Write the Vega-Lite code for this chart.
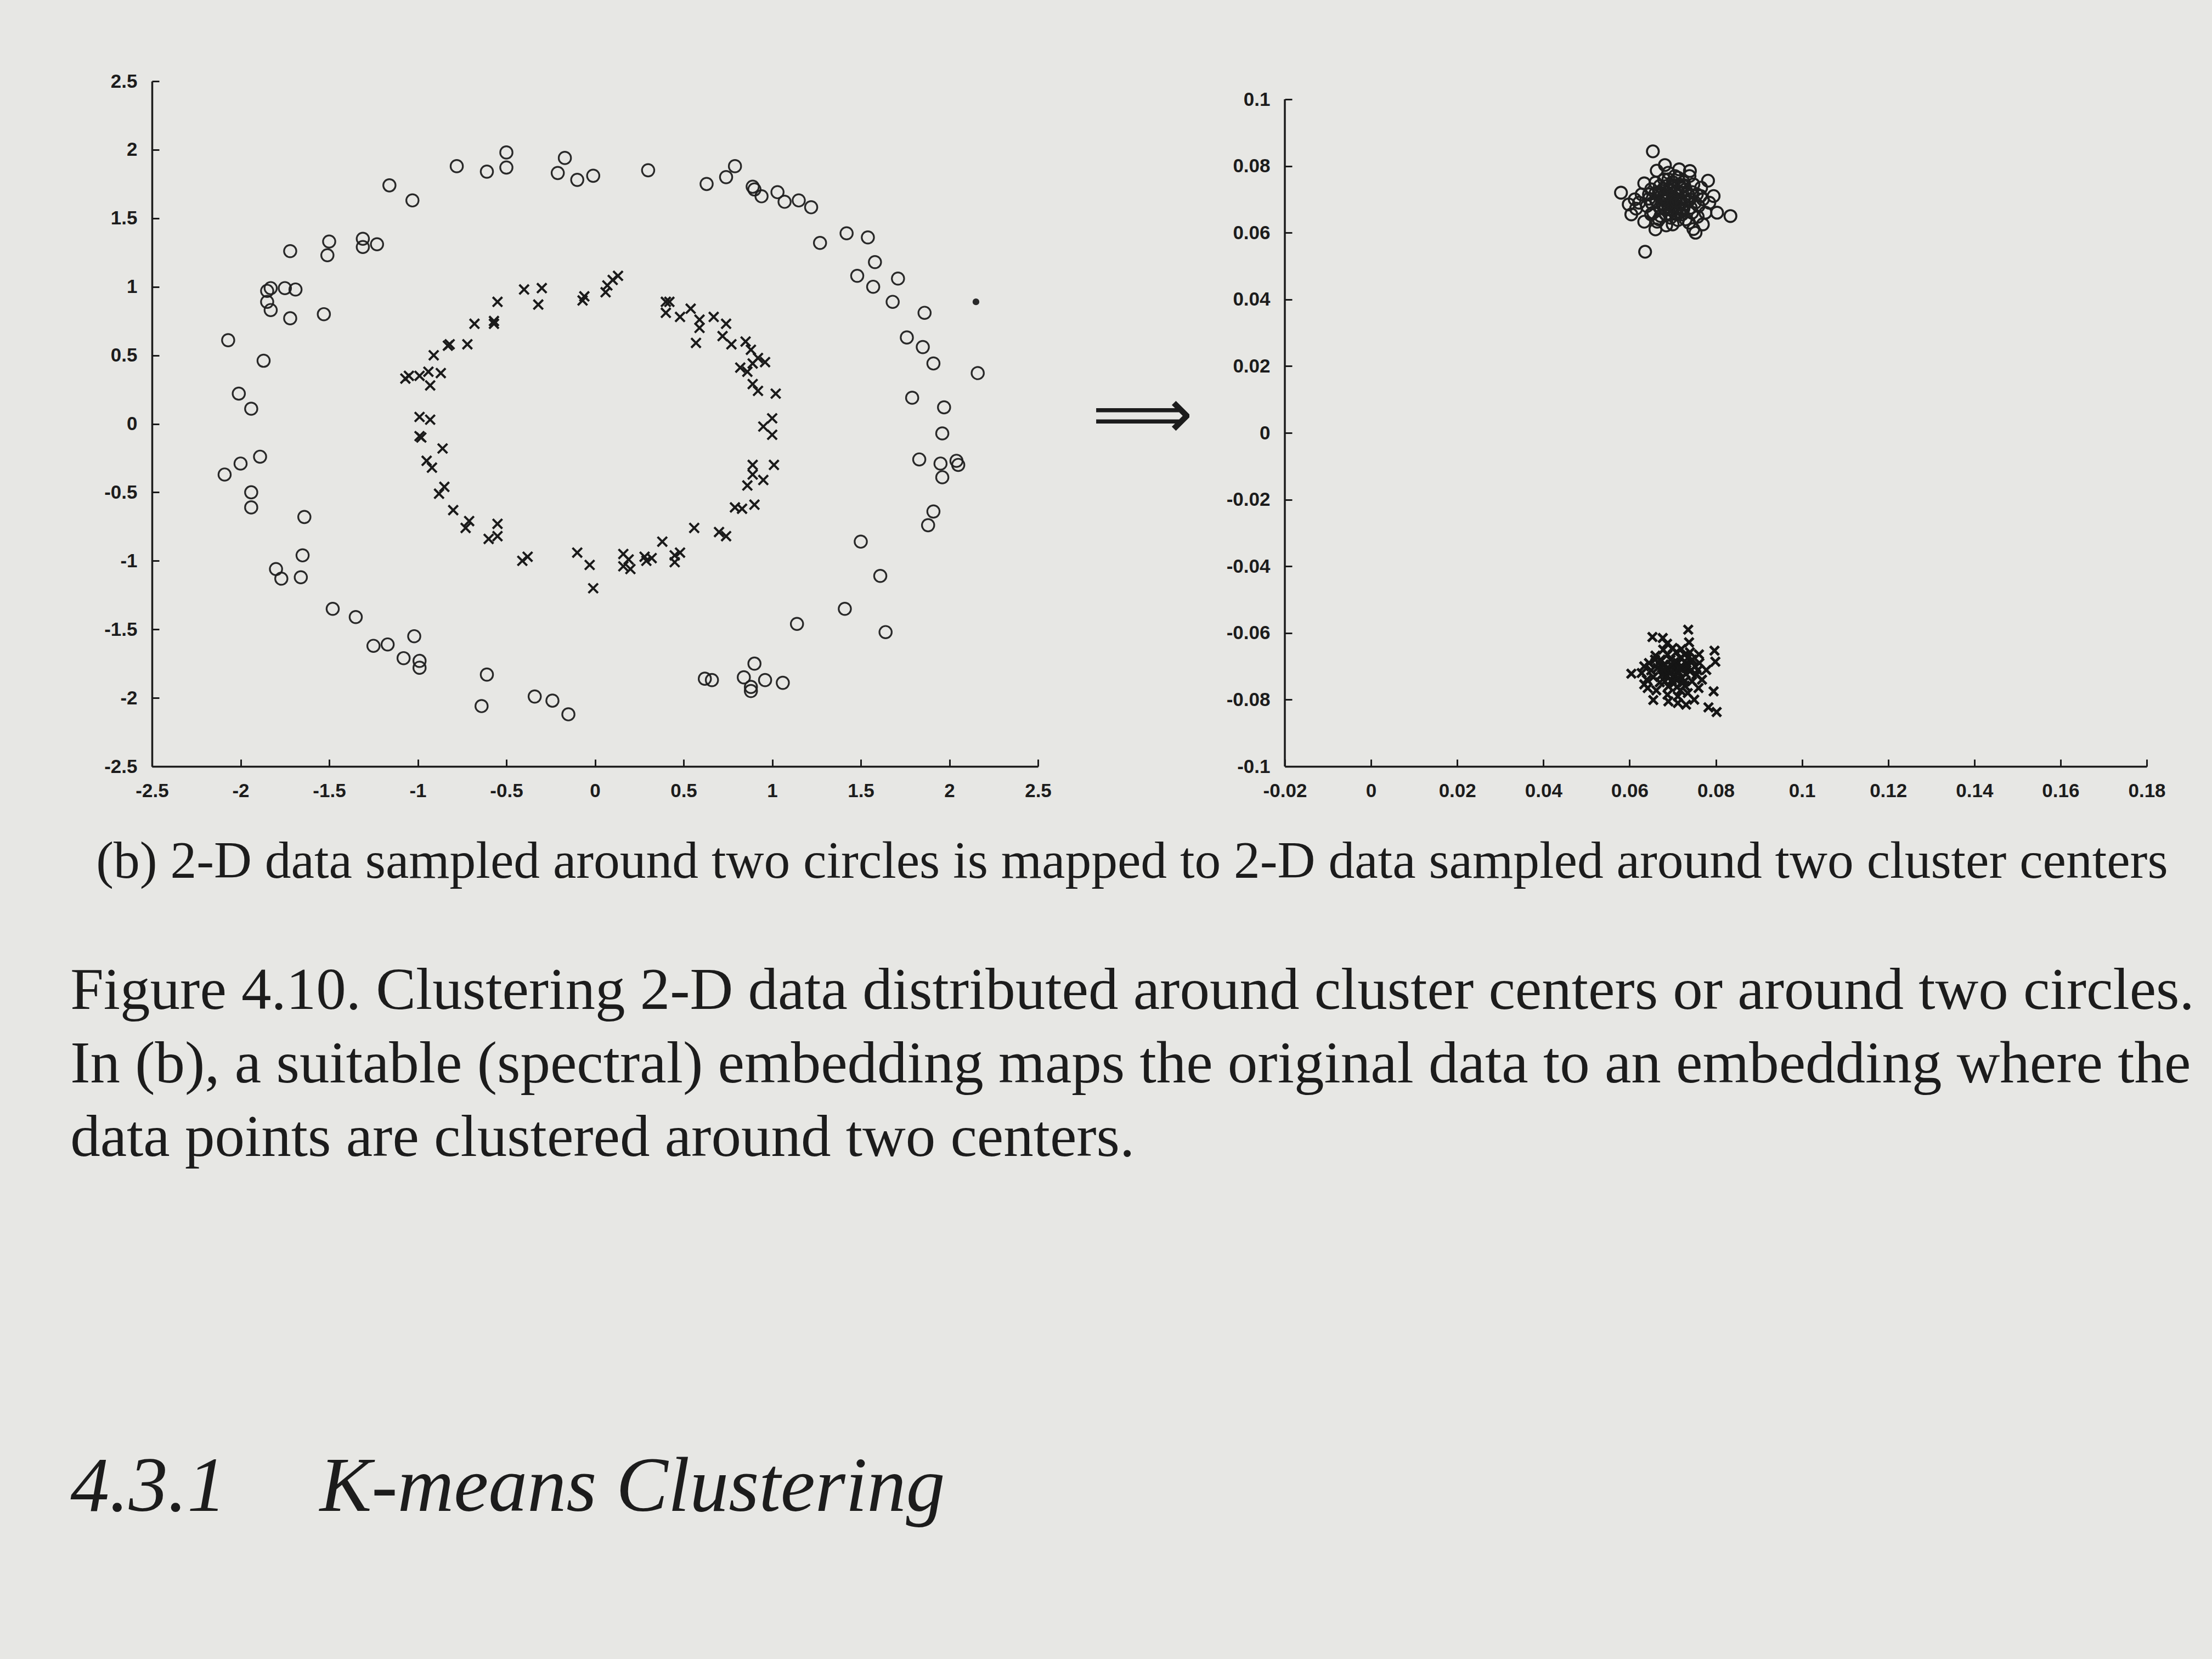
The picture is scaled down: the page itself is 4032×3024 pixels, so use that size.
{
  "$schema": "https://vega.github.io/schema/vega-lite/v6.json",
  "background": "#e7e7e4",
  "padding": {"left": 128, "top": 131, "right": 40, "bottom": 250},
  "config": {
    "view": {"stroke": null},
    "axis": {
      "grid": false,
      "domainColor": "#1c1c1c",
      "domainWidth": 3.5,
      "tickColor": "#1c1c1c",
      "tickWidth": 3,
      "tickSize": -13,
      "labelFont": "Liberation Sans",
      "labelFontSize": 35,
      "labelFontWeight": "bold",
      "labelColor": "#1c1c1c",
      "labelFlush": false,
      "labelOverlap": false,
      "labelPadding": 40,
      "title": null,
      "format": "~g",
      "labelExpr": "replace(datum.label, '−', '-')"
    }
  },
  "datasets": {
    "leftO": [
      {"x": -0.78, "y": 1.88}, {"x": -0.61, "y": 1.84}, {"x": -0.50, "y": 1.98}, {"x": -0.50, "y": 1.87},
      {"x": -0.17, "y": 1.94}, {"x": -0.21, "y": 1.83}, {"x": -0.10, "y": 1.78}, {"x": -0.01, "y": 1.81},
      {"x": -1.16, "y": 1.74}, {"x": -1.03, "y": 1.63}, {"x": -1.72, "y": 1.26}, {"x": -1.50, "y": 1.33},
      {"x": -1.51, "y": 1.23}, {"x": -1.31, "y": 1.35}, {"x": -1.31, "y": 1.29}, {"x": -1.23, "y": 1.31},
      {"x": -1.85, "y": 0.97}, {"x": -1.83, "y": 0.99}, {"x": -1.85, "y": 0.89}, {"x": -1.83, "y": 0.83},
      {"x": -1.75, "y": 0.99}, {"x": -1.69, "y": 0.98}, {"x": -1.72, "y": 0.77}, {"x": -1.53, "y": 0.80},
      {"x": -2.07, "y": 0.61}, {"x": -1.87, "y": 0.46}, {"x": -2.01, "y": 0.22}, {"x": -1.94, "y": 0.11},
      {"x": 0.30, "y": 1.85}, {"x": 0.63, "y": 1.75}, {"x": 0.74, "y": 1.80}, {"x": 0.79, "y": 1.88},
      {"x": 0.89, "y": 1.73}, {"x": 0.90, "y": 1.71}, {"x": 0.94, "y": 1.66}, {"x": 1.03, "y": 1.69},
      {"x": 1.07, "y": 1.62}, {"x": 1.15, "y": 1.63}, {"x": 1.22, "y": 1.58}, {"x": 1.27, "y": 1.32},
      {"x": 1.42, "y": 1.39}, {"x": 1.54, "y": 1.36}, {"x": 1.58, "y": 1.18}, {"x": 1.48, "y": 1.08},
      {"x": 1.57, "y": 1.00}, {"x": 1.71, "y": 1.06}, {"x": 1.68, "y": 0.89}, {"x": 1.86, "y": 0.81},
      {"x": 1.76, "y": 0.63}, {"x": 1.85, "y": 0.56}, {"x": 1.91, "y": 0.44}, {"x": 2.16, "y": 0.37},
      {"x": 1.79, "y": 0.19}, {"x": 1.97, "y": 0.12}, {"x": 1.96, "y": -0.07},
      {"x": -2.09, "y": -0.37}, {"x": -2.00, "y": -0.29}, {"x": -1.89, "y": -0.24}, {"x": -1.94, "y": -0.50},
      {"x": -1.94, "y": -0.61}, {"x": -1.64, "y": -0.68}, {"x": -1.65, "y": -0.96}, {"x": -1.80, "y": -1.06},
      {"x": -1.77, "y": -1.13}, {"x": -1.66, "y": -1.12}, {"x": -1.48, "y": -1.35}, {"x": -1.35, "y": -1.41},
      {"x": -1.02, "y": -1.55}, {"x": -1.25, "y": -1.62}, {"x": -1.17, "y": -1.61}, {"x": -1.08, "y": -1.71},
      {"x": -0.99, "y": -1.73}, {"x": -0.99, "y": -1.78}, {"x": -0.61, "y": -1.83}, {"x": -0.64, "y": -2.06},
      {"x": -0.34, "y": -1.99}, {"x": -0.24, "y": -2.02}, {"x": -0.15, "y": -2.12},
      {"x": 1.83, "y": -0.26}, {"x": 1.95, "y": -0.29}, {"x": 2.04, "y": -0.27}, {"x": 2.05, "y": -0.30},
      {"x": 1.96, "y": -0.39}, {"x": 1.91, "y": -0.64}, {"x": 1.88, "y": -0.74}, {"x": 1.50, "y": -0.86},
      {"x": 1.61, "y": -1.11}, {"x": 1.41, "y": -1.35}, {"x": 1.14, "y": -1.46}, {"x": 1.64, "y": -1.52},
      {"x": 0.90, "y": -1.75}, {"x": 0.62, "y": -1.86}, {"x": 0.66, "y": -1.87}, {"x": 0.84, "y": -1.85},
      {"x": 0.88, "y": -1.92}, {"x": 0.88, "y": -1.95}, {"x": 0.96, "y": -1.87}, {"x": 1.06, "y": -1.89}
    ],
    "leftX": [
      {"x": -0.40, "y": 0.98}, {"x": -0.30, "y": 0.99}, {"x": -0.32, "y": 0.87}, {"x": -0.55, "y": 0.89},
      {"x": -0.68, "y": 0.73}, {"x": -0.57, "y": 0.75}, {"x": -0.57, "y": 0.73}, {"x": -0.83, "y": 0.57},
      {"x": -0.82, "y": 0.58}, {"x": -0.72, "y": 0.58}, {"x": -0.91, "y": 0.50}, {"x": -1.07, "y": 0.33},
      {"x": -1.05, "y": 0.35}, {"x": -0.99, "y": 0.35}, {"x": -0.94, "y": 0.38}, {"x": -0.87, "y": 0.37},
      {"x": -0.93, "y": 0.28}, {"x": -0.99, "y": 0.05}, {"x": -0.93, "y": 0.03}, {"x": -0.99, "y": -0.09},
      {"x": -0.98, "y": -0.10}, {"x": -0.86, "y": -0.18}, {"x": -0.07, "y": 0.90}, {"x": -0.06, "y": 0.93},
      {"x": 0.06, "y": 0.96}, {"x": 0.07, "y": 1.01}, {"x": 0.10, "y": 1.05}, {"x": 0.13, "y": 1.08},
      {"x": 0.40, "y": 0.89}, {"x": 0.42, "y": 0.89}, {"x": 0.40, "y": 0.81}, {"x": 0.48, "y": 0.78},
      {"x": 0.54, "y": 0.84}, {"x": 0.59, "y": 0.76}, {"x": 0.59, "y": 0.70}, {"x": 0.67, "y": 0.78},
      {"x": 0.74, "y": 0.73}, {"x": 0.57, "y": 0.59}, {"x": 0.72, "y": 0.64}, {"x": 0.77, "y": 0.58},
      {"x": 0.85, "y": 0.60}, {"x": 0.88, "y": 0.54}, {"x": 0.92, "y": 0.48}, {"x": 0.96, "y": 0.45},
      {"x": 0.82, "y": 0.41}, {"x": 0.86, "y": 0.38}, {"x": 0.89, "y": 0.44}, {"x": 0.89, "y": 0.29},
      {"x": 0.92, "y": 0.24}, {"x": 1.02, "y": 0.22}, {"x": 1.00, "y": 0.04}, {"x": 0.95, "y": -0.02},
      {"x": 1.00, "y": -0.08},
      {"x": -0.95, "y": -0.27}, {"x": -0.92, "y": -0.32}, {"x": -0.88, "y": -0.51}, {"x": -0.85, "y": -0.46},
      {"x": -0.80, "y": -0.63}, {"x": -0.73, "y": -0.76}, {"x": -0.71, "y": -0.71}, {"x": -0.60, "y": -0.84},
      {"x": -0.55, "y": -0.73}, {"x": -0.55, "y": -0.82}, {"x": -0.41, "y": -1.00}, {"x": -0.38, "y": -0.97},
      {"x": -0.10, "y": -0.94}, {"x": -0.03, "y": -1.03}, {"x": -0.01, "y": -1.20},
      {"x": 1.01, "y": -0.30}, {"x": 0.89, "y": -0.30}, {"x": 0.89, "y": -0.37}, {"x": 0.95, "y": -0.41},
      {"x": 0.86, "y": -0.45}, {"x": 0.79, "y": -0.61}, {"x": 0.83, "y": -0.62}, {"x": 0.90, "y": -0.59},
      {"x": 0.56, "y": -0.76}, {"x": 0.70, "y": -0.79}, {"x": 0.74, "y": -0.82}, {"x": 0.38, "y": -0.86},
      {"x": 0.16, "y": -0.95}, {"x": 0.19, "y": -0.99}, {"x": 0.16, "y": -1.04}, {"x": 0.20, "y": -1.06},
      {"x": 0.28, "y": -0.97}, {"x": 0.32, "y": -0.98}, {"x": 0.29, "y": -1.00}, {"x": 0.45, "y": -0.96},
      {"x": 0.48, "y": -0.94}, {"x": 0.45, "y": -1.01}
    ],
    "leftDot": [{"x": 2.15, "y": 0.89}],
    "arrow": [{"x": 3.09, "y": 0.05, "t": "⟹"}],
    "rightAxis": [{"x": -0.02, "y": -0.1, "y2": 0.1}],
    "rightO": [
      {"x": 0.0654, "y": 0.0844}, {"x": 0.0636, "y": 0.0543}, {"x": 0.0803, "y": 0.0660}, {"x": 0.0834, "y": 0.0650},
      {"x": 0.0580, "y": 0.0720}, {"x": 0.0682, "y": 0.0803}, {"x": 0.0663, "y": 0.0786}, {"x": 0.0782, "y": 0.0756},
      {"x": 0.0795, "y": 0.0710}, {"x": 0.0634, "y": 0.0748}, {"x": 0.0748, "y": 0.0611}, {"x": 0.0753, "y": 0.0600},
      {"x": 0.0604, "y": 0.0655}, {"x": 0.0634, "y": 0.0633}, {"x": 0.0664, "y": 0.0633}, {"x": 0.0685, "y": 0.0622},
      {"x": 0.0739, "y": 0.0770}, {"x": 0.0756, "y": 0.0715}, {"x": 0.0723, "y": 0.0666}, {"x": 0.0690, "y": 0.0780},
      {"x": 0.0712, "y": 0.0765}, {"x": 0.0701, "y": 0.0742}, {"x": 0.0678, "y": 0.0731}, {"x": 0.0660, "y": 0.0718},
      {"x": 0.0645, "y": 0.0702}, {"x": 0.0622, "y": 0.0690}, {"x": 0.0615, "y": 0.0672}, {"x": 0.0640, "y": 0.0680},
      {"x": 0.0655, "y": 0.0660}, {"x": 0.0672, "y": 0.0650}, {"x": 0.0695, "y": 0.0645}, {"x": 0.0710, "y": 0.0655},
      {"x": 0.0730, "y": 0.0640}, {"x": 0.0745, "y": 0.0660}, {"x": 0.0760, "y": 0.0680}, {"x": 0.0770, "y": 0.0700},
      {"x": 0.0766, "y": 0.0735}, {"x": 0.0748, "y": 0.0745}, {"x": 0.0725, "y": 0.0752}, {"x": 0.0705, "y": 0.0722},
      {"x": 0.0688, "y": 0.0705}, {"x": 0.0700, "y": 0.0690}, {"x": 0.0718, "y": 0.0700}, {"x": 0.0735, "y": 0.0718},
      {"x": 0.0728, "y": 0.0685}, {"x": 0.0712, "y": 0.0675}, {"x": 0.0690, "y": 0.0670}, {"x": 0.0675, "y": 0.0688},
      {"x": 0.0662, "y": 0.0695}, {"x": 0.0680, "y": 0.0712}, {"x": 0.0695, "y": 0.0728}, {"x": 0.0718, "y": 0.0735},
      {"x": 0.0740, "y": 0.0700}, {"x": 0.0752, "y": 0.0690}, {"x": 0.0700, "y": 0.0708}, {"x": 0.0685, "y": 0.0695},
      {"x": 0.0705, "y": 0.0680}, {"x": 0.0722, "y": 0.0720}, {"x": 0.0670, "y": 0.0740}, {"x": 0.0650, "y": 0.0730},
      {"x": 0.0628, "y": 0.0715}, {"x": 0.0612, "y": 0.0700}, {"x": 0.0598, "y": 0.0685}, {"x": 0.0776, "y": 0.0660},
      {"x": 0.0785, "y": 0.0690}, {"x": 0.0770, "y": 0.0625}, {"x": 0.0738, "y": 0.0630}, {"x": 0.0700, "y": 0.0625},
      {"x": 0.0660, "y": 0.0610}, {"x": 0.0690, "y": 0.0760}, {"x": 0.0715, "y": 0.0790}, {"x": 0.0740, "y": 0.0785},
      {"x": 0.0680, "y": 0.0700}, {"x": 0.0690, "y": 0.0715}, {"x": 0.0700, "y": 0.0700}, {"x": 0.0710, "y": 0.0712},
      {"x": 0.0720, "y": 0.0690}, {"x": 0.0705, "y": 0.0660}, {"x": 0.0695, "y": 0.0655}, {"x": 0.0683, "y": 0.0672},
      {"x": 0.0676, "y": 0.0700}, {"x": 0.0668, "y": 0.0722}, {"x": 0.0685, "y": 0.0740}, {"x": 0.0700, "y": 0.0752},
      {"x": 0.0715, "y": 0.0745}, {"x": 0.0730, "y": 0.0730}, {"x": 0.0738, "y": 0.0710}, {"x": 0.0733, "y": 0.0695},
      {"x": 0.0725, "y": 0.0672}, {"x": 0.0715, "y": 0.0660}, {"x": 0.0698, "y": 0.0668}, {"x": 0.0688, "y": 0.0685},
      {"x": 0.0708, "y": 0.0695}, {"x": 0.0712, "y": 0.0725}, {"x": 0.0692, "y": 0.0730}, {"x": 0.0675, "y": 0.0715},
      {"x": 0.0670, "y": 0.0675}, {"x": 0.0684, "y": 0.0655}, {"x": 0.0722, "y": 0.0655}, {"x": 0.0742, "y": 0.0675},
      {"x": 0.0745, "y": 0.0722}, {"x": 0.0727, "y": 0.0742}, {"x": 0.0705, "y": 0.0770}, {"x": 0.0680, "y": 0.0760},
      {"x": 0.0660, "y": 0.0750}, {"x": 0.0645, "y": 0.0715}, {"x": 0.0652, "y": 0.0688}, {"x": 0.0668, "y": 0.0640},
      {"x": 0.0712, "y": 0.0638}, {"x": 0.0758, "y": 0.0648}, {"x": 0.0765, "y": 0.0710}, {"x": 0.0650, "y": 0.0655}
    ],
    "rightX": [
      {"x": 0.0736, "y": -0.0590}, {"x": 0.0653, "y": -0.0612}, {"x": 0.0677, "y": -0.0615}, {"x": 0.0687, "y": -0.0632},
      {"x": 0.0659, "y": -0.0680}, {"x": 0.0604, "y": -0.0722}, {"x": 0.0634, "y": -0.0700}, {"x": 0.0797, "y": -0.0653},
      {"x": 0.0799, "y": -0.0686}, {"x": 0.0795, "y": -0.0775}, {"x": 0.0783, "y": -0.0823}, {"x": 0.0802, "y": -0.0837},
      {"x": 0.0731, "y": -0.0815}, {"x": 0.0655, "y": -0.0801}, {"x": 0.0634, "y": -0.0754}, {"x": 0.0738, "y": -0.0628},
      {"x": 0.0761, "y": -0.0664}, {"x": 0.0778, "y": -0.0711},
      {"x": 0.0700, "y": -0.0700}, {"x": 0.0712, "y": -0.0690}, {"x": 0.0690, "y": -0.0712}, {"x": 0.0725, "y": -0.0705},
      {"x": 0.0705, "y": -0.0725}, {"x": 0.0680, "y": -0.0695}, {"x": 0.0718, "y": -0.0675}, {"x": 0.0695, "y": -0.0680},
      {"x": 0.0732, "y": -0.0690}, {"x": 0.0740, "y": -0.0715}, {"x": 0.0722, "y": -0.0735}, {"x": 0.0698, "y": -0.0742},
      {"x": 0.0675, "y": -0.0725}, {"x": 0.0665, "y": -0.0705}, {"x": 0.0672, "y": -0.0680}, {"x": 0.0688, "y": -0.0665},
      {"x": 0.0708, "y": -0.0658}, {"x": 0.0728, "y": -0.0665}, {"x": 0.0745, "y": -0.0680}, {"x": 0.0752, "y": -0.0700},
      {"x": 0.0755, "y": -0.0725}, {"x": 0.0745, "y": -0.0745}, {"x": 0.0728, "y": -0.0758}, {"x": 0.0710, "y": -0.0762},
      {"x": 0.0690, "y": -0.0760}, {"x": 0.0670, "y": -0.0748}, {"x": 0.0655, "y": -0.0732}, {"x": 0.0650, "y": -0.0712},
      {"x": 0.0645, "y": -0.0690}, {"x": 0.0660, "y": -0.0668}, {"x": 0.0678, "y": -0.0650}, {"x": 0.0700, "y": -0.0645},
      {"x": 0.0720, "y": -0.0648}, {"x": 0.0740, "y": -0.0658}, {"x": 0.0762, "y": -0.0690}, {"x": 0.0768, "y": -0.0740},
      {"x": 0.0760, "y": -0.0765}, {"x": 0.0735, "y": -0.0780}, {"x": 0.0712, "y": -0.0790}, {"x": 0.0688, "y": -0.0785},
      {"x": 0.0662, "y": -0.0772}, {"x": 0.0640, "y": -0.0740}, {"x": 0.0628, "y": -0.0720}, {"x": 0.0690, "y": -0.0805},
      {"x": 0.0712, "y": -0.0810}, {"x": 0.0750, "y": -0.0800}, {"x": 0.0702, "y": -0.0710}, {"x": 0.0715, "y": -0.0718},
      {"x": 0.0685, "y": -0.0728}, {"x": 0.0720, "y": -0.0700}, {"x": 0.0695, "y": -0.0695}, {"x": 0.0708, "y": -0.0740},
      {"x": 0.0730, "y": -0.0722}, {"x": 0.0735, "y": -0.0675}, {"x": 0.0668, "y": -0.0690}, {"x": 0.0682, "y": -0.0745},
      {"x": 0.0758, "y": -0.0712}, {"x": 0.0642, "y": -0.0765},
      {"x": 0.0703, "y": -0.0688}, {"x": 0.0693, "y": -0.0722}, {"x": 0.0715, "y": -0.0705}, {"x": 0.0725, "y": -0.0748},
      {"x": 0.0678, "y": -0.0710}, {"x": 0.0702, "y": -0.0752}, {"x": 0.0735, "y": -0.0700}, {"x": 0.0718, "y": -0.0772}
    ]
  },
  "title": {
    "text": [
      "Figure 4.10. Clustering 2-D data distributed around cluster centers or around two circles.",
      "In (b), a suitable (spectral) embedding maps the original data to an embedding where the",
      "data points are clustered around two centers."
    ],
    "subtitle": "4.3.1\u2003\u2009K-means Clustering",
    "orient": "bottom",
    "anchor": "start",
    "font": "Liberation Serif",
    "fontSize": 109,
    "fontWeight": "normal",
    "lineHeight": 134,
    "color": "#1c1c1c",
    "offset": 133,
    "dx": -47,
    "subtitleFont": "Liberation Serif",
    "subtitleFontSize": 142,
    "subtitleFontStyle": "italic",
    "subtitleColor": "#1c1c1c",
    "subtitlePadding": 512
  },
  "vconcat": [
    {
      "title": {
        "text": "(b) 2-D data sampled around two circles is mapped to 2-D data sampled around two cluster centers",
        "orient": "bottom",
        "anchor": "middle",
        "font": "Liberation Serif",
        "fontSize": 95.5,
        "fontWeight": "normal",
        "color": "#1c1c1c",
        "offset": 66,
        "dx": -5
      },
      "spacing": 60,
      "hconcat": [
        {
          "width": 1615,
          "height": 1249,
          "encoding": {
            "x": {"field": "x", "type": "quantitative",
                  "scale": {"domain": [-2.5, 2.5], "nice": false, "zero": false},
                  "axis": {"values": [-2.5, -2, -1.5, -1, -0.5, 0, 0.5, 1, 1.5, 2, 2.5]}},
            "y": {"field": "y", "type": "quantitative",
                  "scale": {"domain": [-2.5, 2.5], "nice": false, "zero": false},
                  "axis": {"values": [-2.5, -2, -1.5, -1, -0.5, 0, 0.5, 1, 1.5, 2, 2.5]}}
          },
          "layer": [
            {"data": {"name": "leftO"},
             "mark": {"type": "point", "shape": "circle", "filled": false, "size": 500, "strokeWidth": 3.2, "color": "#1f1f1f", "opacity": 0.95}},
            {"data": {"name": "leftX"},
             "mark": {"type": "point", "shape": "M-1,-1L1,1M-1,1L1,-1", "filled": false, "size": 300, "strokeWidth": 4, "color": "#1a1a1a", "opacity": 1}},
            {"data": {"name": "leftDot"},
             "mark": {"type": "point", "shape": "circle", "filled": true, "size": 150, "color": "#2a2a2a", "opacity": 1}},
            {"data": {"name": "arrow"},
             "mark": {"type": "text", "font": "DejaVu Sans", "fontSize": 128, "align": "center", "baseline": "middle", "color": "#1c1c1c"},
             "encoding": {"text": {"field": "t"}}}
          ]
        },
        {
          "width": 1571,
          "height": 1249,
          "encoding": {
            "x": {"field": "x", "type": "quantitative",
                  "scale": {"domain": [-0.02, 0.18], "nice": false, "zero": false},
                  "axis": {"values": [-0.02, 0, 0.02, 0.04, 0.06, 0.08, 0.1, 0.12, 0.14, 0.16, 0.18]}},
            "y": {"field": "y", "type": "quantitative",
                  "scale": {"domain": [-0.1, 0.10543], "nice": false, "zero": false},
                  "axis": {"domain": false, "values": [-0.1, -0.08, -0.06, -0.04, -0.02, 0, 0.02, 0.04, 0.06, 0.08, 0.1]}}
          },
          "layer": [
            {"data": {"name": "rightAxis"},
             "mark": {"type": "rule", "strokeWidth": 3.5, "color": "#1c1c1c"},
             "encoding": {"y2": {"field": "y2"}}},
            {"data": {"name": "rightO"},
             "mark": {"type": "point", "shape": "circle", "filled": false, "size": 470, "strokeWidth": 3.6, "color": "#1f1f1f", "opacity": 1}},
            {"data": {"name": "rightX"},
             "mark": {"type": "point", "shape": "M-1,-1L1,1M-1,1L1,-1", "filled": false, "size": 260, "strokeWidth": 5, "color": "#151515", "opacity": 1}}
          ]
        }
      ]
    }
  ]
}
